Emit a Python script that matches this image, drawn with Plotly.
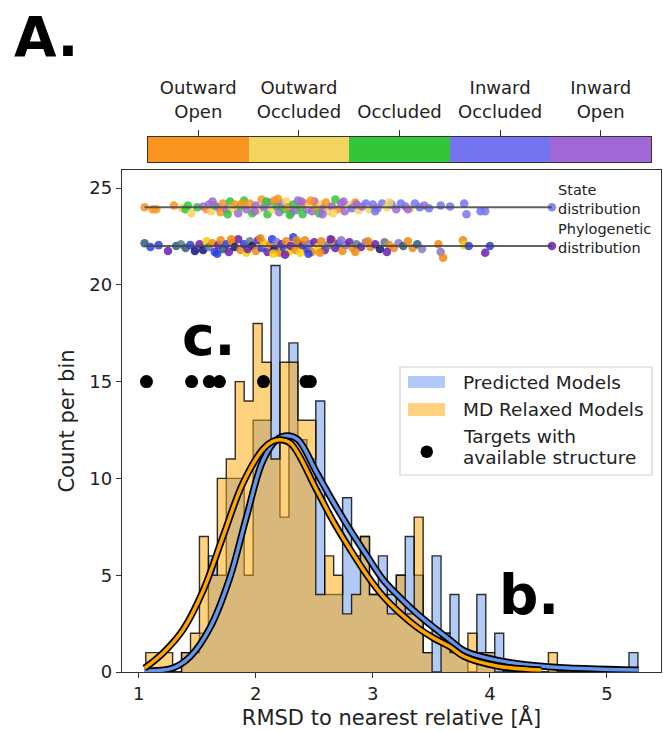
import plotly.graph_objects as go

# ---------------- data ----------------
state_names = ["Outward<br>Open", "Outward<br>Occluded", "Occluded", "Inward<br>Occluded", "Inward<br>Open"]
state_colors = ["#F9951F", "#F3D45F", "#33C63A", "#7474F1", "#A067D6"]

# shared histogram bins
bin_start = 1.060
bin_width = 0.07645
# MD relaxed models counts per bin
md_counts = [1, 1, 1, 0, 1, 2, 7, 5, 10, 11,
             15, 14, 18, 16, 11, 16, 16, 13, 13, 4,
             6, 5, 3, 4, 7, 4, 4, 3, 5, 3,
             8, 1, 0, 2, 1, 1, 2, 1, 1, 0,
             0, 0, 0, 0, 0, 1, 0, 0, 0, 0,
             0, 0, 0, 0, 0]
# Predicted models counts per bin
pred_counts = [0, 0, 0, 0, 1, 1, 2, 6, 5, 10,
               10, 5, 13, 13, 21, 8, 17, 12, 11, 14,
               4, 4, 9, 6, 7, 4, 6, 4, 5, 7,
               5, 1, 6, 2, 4, 1, 0, 4, 1, 2,
               0, 0, 0, 0, 0, 0, 0, 0, 0, 0,
               0, 0, 0, 0, 1]

# fitted curves
pred_fit_x = [1.05, 1.29, 1.44, 1.61, 1.78, 1.92, 2.06, 2.18, 2.27, 2.36, 2.52, 2.66, 2.81, 2.95, 3.09, 3.24, 3.38, 3.52, 3.66, 3.78, 4.07, 4.50, 5.27]
pred_fit_y = [0.05, 0.2, 0.8, 2.3, 4.9, 8.0, 10.9, 12.0, 12.2, 12.0, 10.3, 8.8, 7.3, 6.0, 4.75, 3.8, 3.0, 2.3, 1.65, 1.1, 0.6, 0.27, 0.1]

md_fit_x = [1.05, 1.21, 1.38, 1.55, 1.72, 1.89, 2.06, 2.14, 2.21, 2.30, 2.52, 2.66, 2.81, 2.95, 3.09, 3.24, 3.38, 3.52, 3.66, 3.78, 4.07, 4.44]
md_fit_y = [0.2, 1.0, 2.2, 4.2, 7.0, 9.75, 11.5, 11.9, 12.0, 11.8, 9.4, 7.8, 6.3, 5.0, 3.9, 3.0, 2.3, 1.75, 1.3, 0.8, 0.3, 0.1]

# targets with available structure
target_x = [1.066, 1.452, 1.603, 1.689, 2.066, 2.429, 2.466]
target_y = [15, 15, 15, 15, 15, 15, 15]

# State distribution strip (x, offset from 24, state index)
state_x = [1.05, 1.12, 1.15, 1.30, 1.37, 1.40, 1.42, 1.45, 1.50, 1.55, 1.58, 1.60, 1.62, 1.65, 1.68, 1.70, 1.72, 1.75, 1.78, 1.80,
           1.82, 1.85, 1.87, 1.90, 1.92, 1.95, 1.97, 2.00, 2.02, 2.05, 2.07, 2.10, 2.12, 2.14, 2.16, 2.18, 2.20, 2.22, 2.24, 2.26,
           2.28, 2.30, 2.32, 2.34, 2.36, 2.38, 2.40, 2.42, 2.44, 2.46, 2.48, 2.50, 2.52, 2.54, 2.56, 2.58, 2.60, 2.62, 2.65, 2.68,
           2.70, 2.73, 2.76, 2.79, 2.82, 2.85, 2.88, 2.91, 2.94, 2.97, 3.00, 3.04, 3.08, 3.12, 3.16, 3.20, 3.24, 3.28, 3.32, 3.36,
           3.40, 3.44, 3.48, 3.58, 3.66, 3.78, 3.80, 3.92, 3.96, 4.53,
           1.63, 1.76, 1.88, 1.99, 2.09, 2.19, 2.29, 2.39, 2.47, 2.57, 2.66, 2.75, 2.86, 3.02, 3.14, 3.30]
state_dy = [0.0, -0.1, -0.1, 0.1, -0.05, -0.1, 0.1, -0.3, 0.0, 0.05, -0.1, 0.15, -0.2, 0.1, 0.0, -0.25, 0.2, -0.1, 0.3, -0.05,
            0.15, -0.3, 0.05, 0.35, -0.1, 0.2, -0.3, 0.1, -0.15, 0.4, 0.0, -0.35, 0.25, -0.1, 0.35, 0.05, -0.25, 0.2, -0.1, 0.3,
            0.0, -0.3, 0.15, -0.15, 0.35, 0.0, -0.35, 0.2, -0.1, 0.1, -0.2, 0.3, 0.0, -0.3, 0.15, -0.05, 0.25, -0.2, 0.05, 0.4,
            -0.1, 0.2, -0.2, 0.1, -0.05, 0.25, -0.15, 0.05, 0.2, -0.1, 0.15, -0.05, 0.2, 0.0, 0.15, -0.1, 0.2, 0.05, -0.05, 0.2,
            0.0, 0.1, -0.05, 0.1, 0.05, 0.2, -0.35, -0.2, -0.2, 0.0,
            0.3, -0.35, 0.2, -0.2, 0.3, 0.45, -0.4, 0.3, 0.35, -0.35, -0.3, 0.3, 0.15, -0.2, 0.25, -0.1]
state_idx = [0, 0, 0, 0, 1, 2, 2, 1, 2, 4, 0, 4, 1, 2, 4, 0, 0, 4, 2, 1,
             0, 4, 2, 2, 4, 0, 2, 4, 1, 0, 4, 2, 4, 1, 0, 2, 4, 4, 2, 1,
             0, 4, 2, 4, 4, 2, 2, 0, 4, 1, 4, 4, 0, 2, 1, 4, 0, 1, 4, 2,
             0, 4, 4, 1, 3, 0, 1, 4, 3, 1, 3, 4, 3, 1, 3, 4, 3, 3, 1, 3,
             3, 4, 3, 3, 3, 3, 3, 3, 3, 3,
             4, 2, 0, 4, 2, 0, 2, 4, 0, 4, 1, 4, 4, 3, 1, 4]

# Phylogenetic distribution strip
phylo_palette = ["#2B5F7A", "#12127A", "#2A3EE8", "#6A1FB0", "#F08A10", "#F8D000", "#5F7890", "#8878C8"]
phylo_x = [1.05, 1.10, 1.17, 1.25, 1.32, 1.36, 1.40, 1.44, 1.48, 1.52, 1.55, 1.58, 1.60, 1.63, 1.65, 1.68, 1.70, 1.72, 1.75, 1.77,
           1.80, 1.82, 1.85, 1.87, 1.90, 1.92, 1.95, 1.97, 2.00, 2.02, 2.05, 2.07, 2.10, 2.12, 2.14, 2.16, 2.18, 2.20, 2.22, 2.24,
           2.26, 2.28, 2.30, 2.32, 2.34, 2.36, 2.38, 2.40, 2.42, 2.44, 2.46, 2.48, 2.50, 2.53, 2.56, 2.59, 2.62, 2.65, 2.68, 2.71,
           2.74, 2.77, 2.80, 2.83, 2.86, 2.90, 2.94, 2.98, 3.02, 3.06, 3.10, 3.14, 3.18, 3.22, 3.26, 3.30, 3.34, 3.38, 3.42, 3.56,
           3.58, 3.60, 3.77, 3.78, 3.82, 3.96, 4.00, 4.53,
           1.67, 1.79, 1.93, 2.04, 2.15, 2.25, 2.35, 2.45, 2.55, 2.64, 2.73, 2.85, 2.96, 3.12]
phylo_dy = [0.15, -0.05, 0.05, -0.25, 0.0, 0.1, -0.1, 0.05, -0.25, 0.1, -0.2, 0.25, -0.05, 0.15, -0.3, 0.05, 0.3, -0.15, 0.1, -0.3,
            0.2, -0.05, 0.35, -0.2, 0.1, -0.35, 0.25, 0.0, -0.25, 0.3, -0.1, 0.15, -0.3, 0.05, 0.35, -0.15, 0.2, -0.35, 0.1, -0.1,
            0.25, -0.3, 0.0, 0.45, -0.2, 0.15, -0.35, 0.05, 0.3, -0.15, 0.1, -0.3, 0.2, -0.05, 0.25, -0.2, 0.05, 0.3, -0.1, 0.15,
            -0.25, 0.05, 0.2, -0.1, 0.1, -0.05, 0.2, -0.05, 0.1, -0.15, 0.2, 0.05, -0.1, 0.15, 0.0, 0.25, -0.1, 0.1, -0.15, 0.1,
            -0.3, -0.6, 0.3, 0.05, 0.0, -0.35, 0.0, 0.0,
            -0.4, 0.35, -0.15, 0.4, -0.4, -0.45, 0.3, -0.4, -0.35, 0.35, 0.3, -0.3, 0.25, -0.3]
phylo_idx = [0, 2, 2, 3, 0, 6, 0, 2, 1, 3, 1, 5, 6, 4, 2, 3, 4, 0, 2, 3,
             4, 1, 3, 4, 2, 5, 6, 1, 4, 3, 2, 5, 3, 4, 2, 1, 7, 4, 3, 2,
             4, 5, 3, 2, 4, 0, 5, 3, 4, 2, 7, 4, 3, 5, 4, 3, 6, 4, 3, 2,
             4, 7, 3, 4, 6, 3, 7, 4, 3, 1, 6, 4, 4, 7, 0, 4, 4, 0, 7, 4,
             7, 4, 4, 5, 2, 3, 2, 3,
             2, 4, 3, 4, 5, 3, 4, 2, 4, 3, 7, 4, 4, 3]

strip_levels = [24, 22]
strip_span = [1.05, 4.53]
strip_labels = ["State<br>distribution", "Phylogenetic<br>distribution"]

legend_labels = ["Predicted Models", "MD Relaxed Models", "Targets with", "available structure"]

# ---------------- figure ----------------
W, H = 663, 731
L, R, T, B = 122, 2, 130, 59
pw, ph = W - L - R, H - T - B


def px_x(p):
    return (p - L) / pw


def px_y(p):
    return (H - B - p) / ph


def step_outline(start, width, counts):
    xs, ys = [start], [0]
    for i, c in enumerate(counts):
        xs.append(start + i * width)
        ys.append(c)
    end = start + len(counts) * width
    xs += [end, end]
    ys += [counts[-1], 0]
    return xs, ys


BLUE_FILL = "rgba(100,149,237,0.5)"
ORANGE_FILL = "rgba(255,165,0,0.5)"

fig = go.Figure()

for counts, fillc, name in [(pred_counts, BLUE_FILL, "Predicted Models"),
                            (md_counts, ORANGE_FILL, "MD Relaxed Models")]:
    sx, sy = step_outline(bin_start, bin_width, counts)
    fig.add_trace(go.Scatter(x=sx, y=sy, mode="lines", line=dict(color="rgba(0,0,0,0.8)", width=1.4, shape="hv"),
                             fill="tozeroy", fillcolor=fillc, name=name, showlegend=False, hoverinfo="skip"))

for fx, fy, col in [(pred_fit_x, pred_fit_y, "#6495ED"), (md_fit_x, md_fit_y, "#FFA500")]:
    fig.add_trace(go.Scatter(x=fx, y=fy, mode="lines", line=dict(color="black", width=7, shape="spline"),
                             showlegend=False, hoverinfo="skip"))
    fig.add_trace(go.Scatter(x=fx, y=fy, mode="lines", line=dict(color=col, width=3.5, shape="spline"),
                             showlegend=False, hoverinfo="skip"))

# strips
fig.add_trace(go.Scatter(
    x=state_x, y=[strip_levels[0] + d for d in state_dy], mode="markers",
    marker=dict(size=8.5, color=[state_colors[i] for i in state_idx], opacity=0.85),
    showlegend=False, hoverinfo="skip"))
fig.add_trace(go.Scatter(
    x=phylo_x, y=[strip_levels[1] + d for d in phylo_dy], mode="markers",
    marker=dict(size=8.5, color=[phylo_palette[i] for i in phylo_idx], opacity=0.85),
    showlegend=False, hoverinfo="skip"))
for lv in strip_levels:
    fig.add_trace(go.Scatter(x=strip_span, y=[lv, lv], mode="lines",
                             line=dict(color="rgba(70,70,70,0.85)", width=2),
                             showlegend=False, hoverinfo="skip"))
for lv, lab in zip(strip_levels, strip_labels):
    fig.add_annotation(x=strip_span[1] + 0.035, y=lv + 0.4, xref="x", yref="y", text=lab,
                       showarrow=False, xanchor="left", yanchor="middle", align="left",
                       font=dict(size=14.5, color="#222"))

fig.add_trace(go.Scatter(x=target_x, y=target_y, mode="markers",
                         marker=dict(size=13, color="black"),
                         name="Targets with available structure", showlegend=False))

# colour bar of states
fig.add_trace(go.Heatmap(
    z=[[0, 1, 2, 3, 4]], x=[0, 1, 2, 3, 4], y=[0],
    colorscale=[[0, state_colors[0]], [0.2, state_colors[0]], [0.2, state_colors[1]], [0.4, state_colors[1]],
                [0.4, state_colors[2]], [0.6, state_colors[2]], [0.6, state_colors[3]], [0.8, state_colors[3]],
                [0.8, state_colors[4]], [1, state_colors[4]]],
    zmin=0, zmax=4, showscale=False, xaxis="x2", yaxis="y2", hoverinfo="skip"))

axis_font = dict(family="DejaVu Sans", size=18, color="#222")

fig.update_layout(
    width=W, height=H,
    margin=dict(l=L, r=R, t=T, b=B),
    paper_bgcolor="white", plot_bgcolor="white",
    font=dict(family="DejaVu Sans", size=18, color="#222"),
    showlegend=False,
    xaxis=dict(domain=[0, 1], range=[0.857, 5.462], tickvals=[1, 2, 3, 4, 5],
               showline=True, mirror=True, linecolor="#333", linewidth=1.3,
               ticks="outside", ticklen=5, tickcolor="#333", showgrid=False, zeroline=False,
               tickfont=axis_font,
               title=dict(text="RMSD to nearest relative [Å]", font=dict(size=21, color="#222"), standoff=2)),
    yaxis=dict(domain=[0, px_y(170)], range=[0, 25.93], tickvals=[0, 5, 10, 15, 20, 25],
               showline=True, mirror=True, linecolor="#333", linewidth=1.3,
               ticks="outside", ticklen=5, tickcolor="#333", showgrid=False, zeroline=False,
               tickfont=axis_font,
               title=dict(text="Count per bin", font=dict(size=21, color="#222"), standoff=8)),
    xaxis2=dict(domain=[px_x(148), px_x(651)], range=[-0.5, 4.5], anchor="y2", side="top",
                tickvals=[0, 1, 2, 3, 4], ticktext=state_names, ticks="outside", ticklen=6,
                ticklabelstandoff=5,
                tickcolor="#333", showline=True, mirror=True, linecolor="#333", linewidth=1.3,
                showgrid=False, zeroline=False, tickfont=dict(size=18, color="#222")),
    yaxis2=dict(domain=[px_y(162), px_y(137)], range=[-0.5, 0.5], anchor="x2",
                showticklabels=False, ticks="", showline=True, mirror=True, linecolor="#333", linewidth=1.3,
                showgrid=False, zeroline=False),
)

# legend (drawn as a box with swatches)
fig.add_shape(type="rect", xref="paper", yref="paper", x0=px_x(400), x1=px_x(652), y0=px_y(475), y1=px_y(367),
              line=dict(color="#d0d0d0", width=1.2), fillcolor="rgba(255,255,255,0.85)", layer="above")
fig.add_shape(type="rect", xref="paper", yref="paper", x0=px_x(408), x1=px_x(445), y0=px_y(388), y1=px_y(376),
              line=dict(width=0), fillcolor=BLUE_FILL, layer="above")
fig.add_shape(type="rect", xref="paper", yref="paper", x0=px_x(408), x1=px_x(445), y0=px_y(416), y1=px_y(403),
              line=dict(width=0), fillcolor=ORANGE_FILL, layer="above")
fig.add_shape(type="circle", xref="paper", yref="paper", x0=px_x(420.5), x1=px_x(433), y0=px_y(458), y1=px_y(445.5),
              line=dict(width=0), fillcolor="black", layer="above")
for lab, yp in zip(legend_labels, [382, 409.5, 436.5, 457.5]):
    fig.add_annotation(x=px_x(461), y=px_y(yp), xref="paper", yref="paper", text=lab, showarrow=False,
                       xanchor="left", yanchor="middle", font=dict(size=18.5, color="#222"))

for txt, xp, yp in [("A.", 12, 37), ("c.", 180, 336), ("b.", 497, 595)]:
    fig.add_annotation(x=px_x(xp), y=px_y(yp), xref="paper", yref="paper", text="<b>%s</b>" % txt,
                       showarrow=False, xanchor="left", yanchor="middle",
                       font=dict(family="DejaVu Sans", size=55, color="black"))

fig.write_html("out.html", config={"displayModeBar": False},
               post_script="document.body.style.margin='0px';")
